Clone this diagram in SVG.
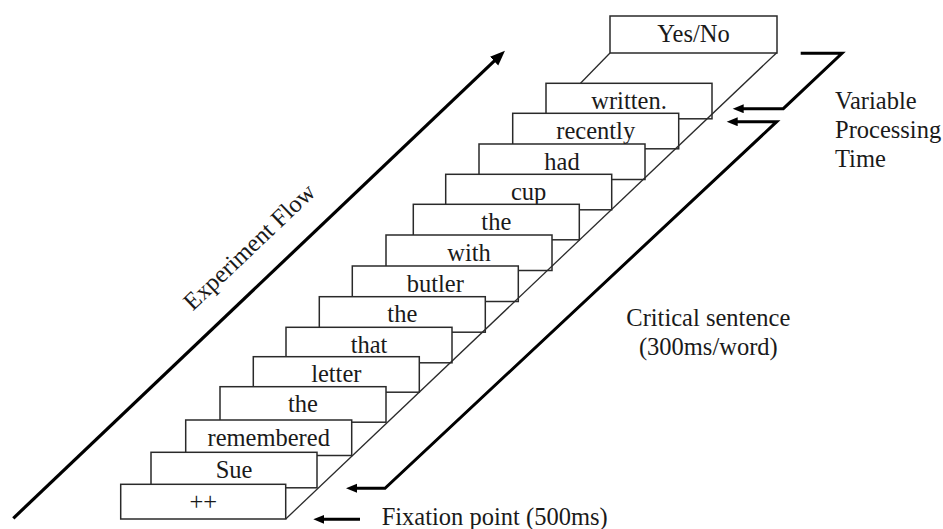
<svg xmlns="http://www.w3.org/2000/svg" width="943" height="529" viewBox="0 0 943 529">
  <style>
    .box rect { fill: #ffffff; stroke: #2a2a2a; stroke-width: 1.5; }
    .box text, .label { font-family: "Liberation Serif", "Times New Roman", serif; font-size: 24.5px; fill: #1a1a1a; }
    .box text { text-anchor: middle; }
    .shelf { fill: none; stroke: #2a2a2a; stroke-width: 1.3; }
    .thick { fill: none; stroke: #000000; stroke-width: 3; stroke-linejoin: miter; }
    .flow { fill: none; stroke: #000000; stroke-width: 3.2; }
  </style>
  <defs>
    <marker id="ah" markerUnits="userSpaceOnUse" markerWidth="12" markerHeight="10" refX="3" refY="4.5" orient="auto-start-reverse">
      <path d="M0,0 L11,4.5 L0,9 z" fill="#000000"/>
    </marker>
    <marker id="ahBig" markerUnits="userSpaceOnUse" markerWidth="16" markerHeight="13" refX="4" refY="6" orient="auto">
      <path d="M0,0 L15,6 L0,12 z" fill="#000000"/>
    </marker>
  </defs>
  <rect width="943" height="529" fill="#ffffff"/>

  <g id="experiment-flow">
    <path class="flow" d="M13.3,518.3 L497,58.3" marker-end="url(#ahBig)"/>
    <text class="label" text-anchor="middle" transform="translate(254.8,252.6) rotate(-43.5)">Experiment Flow</text>
  </g>

  <g id="node-yesno" class="box"><rect x="610" y="16" width="167" height="37"/><text x="693.5" y="42">Yes/No</text></g>
  <g id="node-written" class="box"><rect x="546" y="83.3" width="166" height="35.5"/><text x="629" y="108.8">written.</text></g>
  <g id="node-recently" class="box"><rect x="512.7" y="113.3" width="166" height="35.5"/><text x="595.7" y="138.8">recently</text></g>
  <g id="node-had" class="box"><rect x="479" y="144" width="166" height="35.5"/><text x="562" y="169.5">had</text></g>
  <g id="node-cup" class="box"><rect x="445.7" y="174.3" width="166" height="35.5"/><text x="528.7" y="199.8">cup</text></g>
  <g id="node-the3" class="box"><rect x="413.3" y="204.3" width="166" height="35.5"/><text x="496.3" y="229.8">the</text></g>
  <g id="node-with" class="box"><rect x="386" y="235" width="166" height="35.5"/><text x="469" y="260.5">with</text></g>
  <g id="node-butler" class="box"><rect x="352.3" y="266" width="166" height="35.5"/><text x="435.3" y="291.5">butler</text></g>
  <g id="node-the2" class="box"><rect x="319.3" y="296.7" width="166" height="35.5"/><text x="402.3" y="322.2">the</text></g>
  <g id="node-that" class="box"><rect x="286" y="327.3" width="166" height="35.5"/><text x="369" y="352.8">that</text></g>
  <g id="node-letter" class="box"><rect x="253.3" y="356.7" width="166" height="35.5"/><text x="336.3" y="382.2">letter</text></g>
  <g id="node-the1" class="box"><rect x="220" y="386.7" width="166" height="35.5"/><text x="303" y="412.2">the</text></g>
  <g id="node-remembered" class="box"><rect x="185.7" y="420" width="166" height="35.5"/><text x="268.7" y="445.5">remembered</text></g>
  <g id="node-sue" class="box"><rect x="151" y="452.3" width="166" height="35.5"/><text x="234" y="477.8">Sue</text></g>
  <g id="node-fixation" class="box"><rect x="120.7" y="484.3" width="165" height="34.7"/><text x="203.2" y="509.8">++</text></g>

  <g id="connectors">
    <path class="shelf" d="M285.7,519 L776.7,52.7"/>
    <path class="shelf" d="M610,53 L580.5,83.3"/>
    <path class="thick" d="M800.7,53.3 L842,53.3 L783.3,108.7 L740.7,108.7" marker-end="url(#ah)"/>
    <path class="thick" d="M734.7,121.7 L776.7,121.7 L385,488.3 L354,488.3" marker-start="url(#ah)" marker-end="url(#ah)"/>
    <path class="thick" d="M360,519.3 L321.3,519.3" marker-end="url(#ah)"/>
  </g>

  <g id="labels">
    <text class="label" x="835" y="109">Variable</text>
    <text class="label" x="835" y="138.3">Processing</text>
    <text class="label" x="835" y="167.3">Time</text>
    <text class="label" x="708.3" y="326" text-anchor="middle">Critical sentence</text>
    <text class="label" x="708.3" y="355" text-anchor="middle">(300ms/word)</text>
    <text class="label" x="381.7" y="525">Fixation point (500ms)</text>
  </g>
</svg>
